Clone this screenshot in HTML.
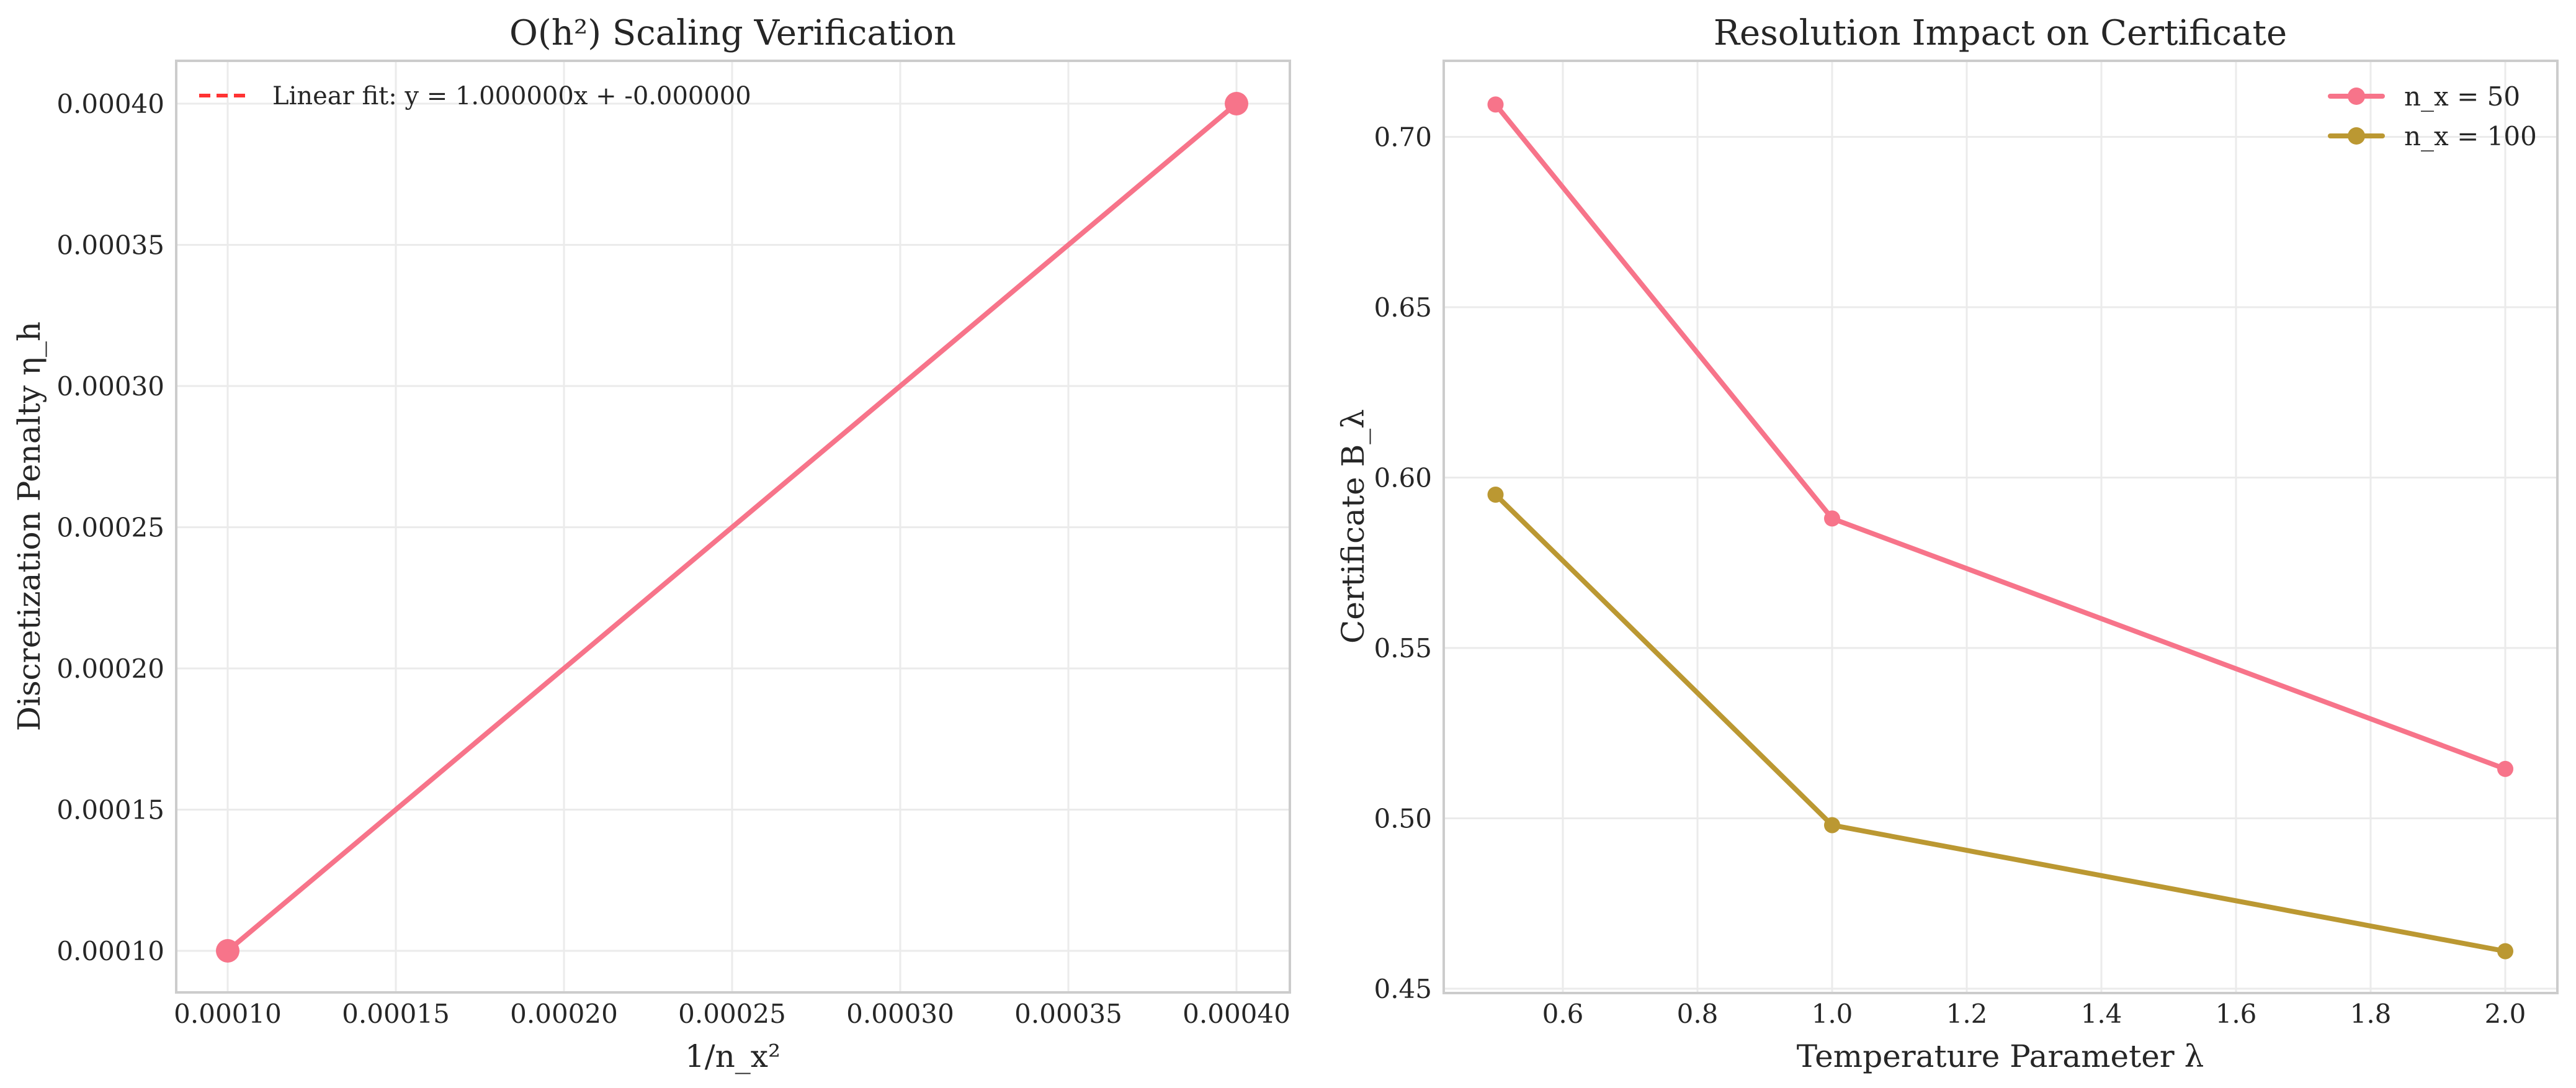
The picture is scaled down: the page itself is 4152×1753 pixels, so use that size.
<!DOCTYPE html>
<html><head><meta charset="utf-8"><style>
html,body{margin:0;padding:0;background:#fff;}
svg{display:block;font-family:"DejaVu Serif","Liberation Serif",serif;}
</style></head><body>
<svg id="chart" width="4152" height="1753" viewBox="0 0 4152 1753" xmlns="http://www.w3.org/2000/svg"></svg>
<script>
const leftX = [0.0001, 0.0004];
const leftY = [0.0001, 0.0004];
const leftXTicks = [0.0001,0.00015,0.0002,0.00025,0.0003,0.00035,0.0004];
const leftYTicks = [0.0001,0.00015,0.0002,0.00025,0.0003,0.00035,0.0004];
const lambdas = [0.5, 1.0, 2.0];
const certN50 = [0.7095, 0.588, 0.5145];
const certN100 = [0.595, 0.498, 0.461];
const rightXTicks = [0.6,0.8,1.0,1.2,1.4,1.6,1.8,2.0];
const rightYTicks = [0.45,0.50,0.55,0.60,0.65,0.70];

const svg = document.getElementById('chart');
const NS = 'http://www.w3.org/2000/svg';
function mk(tag, attrs, parent){const e=document.createElementNS(NS,tag);for(const k in attrs)e.setAttribute(k,attrs[k]);(parent||svg).appendChild(e);return e;}

const L={x0:284,x1:2079,y0:98,y1:1599};
const lx=v=>367+(v-0.0001)/0.00005*271;
const ly=v=>1532-(v-0.0001)/0.0001*455;
const R={x0:2327,x1:4122,y0:98,y1:1600};
const rx=v=>2519+(v-0.6)/0.2*217;
const ry=v=>1593-(v-0.45)/0.01*54.9;

function axes(A, xt, yt, fx, fy, fmtX, fmtY, nm){
  const g=mk('g',{});
  
  
  xt.forEach(t=>{const x=fx(t);
    const l=mk('line',{x1:x,x2:x,y1:A.y0,y2:A.y1,stroke:'#ebebeb','stroke-width':3},g);
    
    const tx=mk('text',{x:x,y:1648,'font-size':42,fill:'#262626','text-anchor':'middle'},g);
    tx.textContent=fmtX(t);
    
  });
  yt.forEach(t=>{const y=fy(t);
    const l=mk('line',{x1:A.x0,x2:A.x1,y1:y,y2:y,stroke:'#ebebeb','stroke-width':3},g);
    
    const tx=mk('text',{x:A.x0-19,y:y+15,'font-size':42,fill:'#262626','text-anchor':'end'},g);
    tx.textContent=fmtY(t);
    
  });
  const r=mk('rect',{x:A.x0,y:A.y0,width:A.x1-A.x0,height:A.y1-A.y0,fill:'none',stroke:'#cccccc','stroke-width':4},g);
  
}
axes(L,leftXTicks,leftYTicks,lx,ly,t=>t.toFixed(5),t=>t.toFixed(5),'left');
axes(R,rightXTicks,rightYTicks,rx,ry,t=>t.toFixed(1),t=>t.toFixed(2),'right');

function series(xs,ys,fx,fy,color,r,nm){
  const pts=xs.map((x,i)=>fx(x)+','+fy(ys[i])).join(' ');
  const p=mk('polyline',{points:pts,fill:'none',stroke:color,'stroke-width':8,'stroke-linejoin':'round'});
  
  xs.forEach((x,i)=>{const c=mk('circle',{cx:fx(x),cy:fy(ys[i]),r:r,fill:color});
    });
}
series(leftX,leftY,lx,ly,'#f7748a',19,'penalty');
const fit=mk('line',{x1:lx(leftX[0]),y1:ly(leftY[0]),x2:lx(leftX[1]),y2:ly(leftY[1]),stroke:'#f7748a','stroke-width':6});

series(lambdas,certN50,rx,ry,'#f7748a',13,'n50');
series(lambdas,certN100,rx,ry,'#bb9832',13,'n100');

function text(x,y,s,size,anchor,nm,rot){
  const t=mk('text',{x:x,y:y,'font-size':size,fill:'#262626','text-anchor':anchor});
  if(rot)t.setAttribute('transform','rotate(-90 '+x+' '+y+')');
  t.textContent=s;
}
text(1181,72,'O(h²) Scaling Verification',56,'middle','left-title');
text(3224,72,'Resolution Impact on Certificate',56,'middle','right-title');
text(1181,1719,'1/n_x²',50,'middle','left-x-axis-title');
text(3224,1719,'Temperature Parameter λ',50,'middle','right-x-axis-title');
text(64,848,'Discretization Penalty η_h',50,'middle','left-y-axis-title',true);
text(2198,848,'Certificate B_λ',50,'middle','right-y-axis-title',true);

const ll=mk('line',{x1:321,x2:405,y1:154,y2:154,stroke:'#ff3333','stroke-width':6,'stroke-dasharray':'18,10'});

text(439,168,'Linear fit: y = 1.000000x + -0.000000',40,'start','legend-fit-label');
[['#f7748a','n_x = 50',155,'legend-n50'],['#bb9832','n_x = 100',219,'legend-n100']].forEach(d=>{
  const l=mk('line',{x1:3756,x2:3840,y1:d[2],y2:d[2],stroke:d[0],'stroke-width':8,'stroke-linecap':'round'});
  
  const c=mk('circle',{cx:3798,cy:d[2],r:14,fill:d[0]});
  
  text(3875,d[2]+15,d[1],42,'start',d[3]+'-label');
});
</script>
</body></html>
